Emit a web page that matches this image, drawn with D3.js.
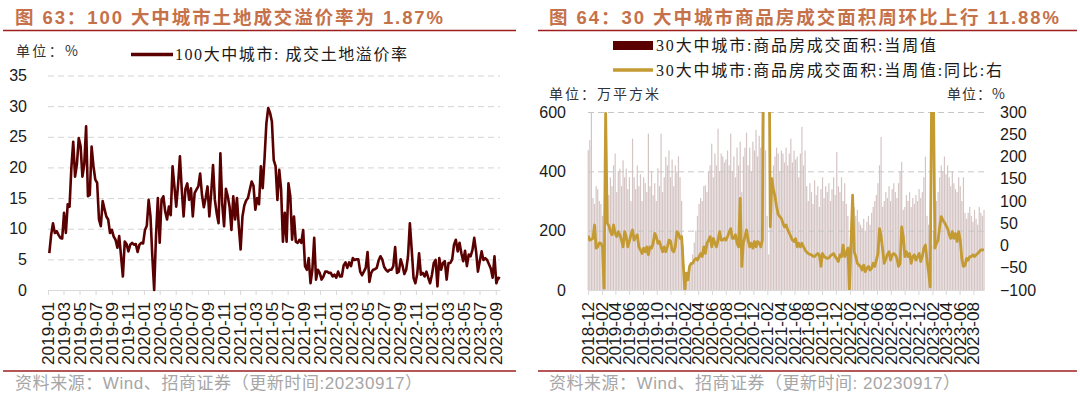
<!DOCTYPE html>
<html lang="zh">
<head>
<meta charset="UTF-8">
<title>土地溢价率与商品房成交面积</title>
<script src="https://cdn.jsdelivr.net/npm/d3@7"></script>
<style>
  body { margin: 0; background: #fff; }
  svg { display: block; font-family: "Liberation Sans", Arial, "Noto Sans CJK SC", sans-serif; }
  .title { font-family: "Liberation Sans", "Noto Sans CJK SC", sans-serif; font-weight: bold; font-size: 18.5px; fill: #c5714a; }
  .note { font-family: "Noto Sans CJK SC", sans-serif; font-size: 14px; fill: #333; }
  .legend { font-family: "Liberation Serif", "Noto Sans CJK SC", serif; font-size: 16px; fill: #1a1a1a; }
  .source { font-family: "Liberation Sans", "Noto Sans CJK SC", sans-serif; font-size: 17px; fill: #a6a6a6; }
  .rule { stroke: #9e1f1f; stroke-width: 1.3; }
  .grid line { stroke: #d4d4d4; stroke-dasharray: 6,4; }
  .grid path { display: none; }
  .yaxis path, .yaxis line { display: none; }
  .yaxis text { font-size: 16px; fill: #1a1a1a; }
  .xaxis path, .xaxis line { stroke: #d9d9d9; }
  .xaxis text { font-size: 16px; fill: #1a1a1a; }
</style>
</head>
<body>
<svg id="chart" width="1080" height="393"></svg>
<script>
// 图63：100大中城市成交土地溢价率（周，%），截至 2023-09-17
const premiumEnd = '2023-09-17';
const landPremium = [
  6.0, 9.0, 10.9, 9.3, 9.6, 9.0, 8.5, 8.4, 12.6, 9.3,
  14.0, 13.6, 20.0, 24.2, 18.5, 20.5, 24.8, 23.5, 18.5, 20.5,
  26.7, 15.3, 15.5, 23.4, 20.2, 18.0, 17.5, 11.5, 10.4, 14.5,
  13.2, 12.0, 11.5, 9.3, 9.8, 8.7, 8.2, 6.9, 8.8, 5.5,
  2.2, 7.9, 7.5, 6.3, 7.4, 7.7, 7.4, 7.5, 6.2, 7.4,
  7.7, 7.6, 9.8, 10.5, 14.7, 12.0, 5.5, 0.0, 8.8, 15.0,
  7.7, 14.7, 15.3, 12.8, 11.5, 13.6, 12.2, 20.2, 16.9, 13.6,
  17.2, 21.8, 16.4, 12.0, 16.5, 17.4, 14.7, 16.6, 12.0, 15.8,
  16.4, 16.9, 19.0,
  15.5, 13.5, 15.0, 16.9, 12.0, 15.8, 20.4, 14.7, 12.5, 10.9,
  22.3, 14.0, 10.4, 16.5, 15.3, 13.6, 9.8, 15.3, 11.5, 15.0,
  10.4, 6.6, 12.0, 13.8, 14.6, 15.0, 16.4, 17.7, 17.0, 13.1,
  15.0, 14.0, 20.2, 16.6, 21.5, 27.2, 29.7, 28.9, 27.5, 21.2,
  20.2, 14.7, 19.6, 16.4, 7.9, 12.6, 7.9, 17.4, 15.3, 8.2,
  12.0, 7.9, 7.7, 8.2, 7.7, 9.8, 3.9, 3.3, 5.2, 1.1,
  3.3, 8.5, 1.7, 3.3, 2.8, 1.7, 2.2, 3.0, 3.0, 2.8,
  2.8, 2.2, 2.5, 2.0, 3.0, 2.2, 2.2,
  4.0, 4.5, 3.6, 4.5, 3.9, 5.2, 4.9, 5.0, 5.0, 3.0,
  2.4, 3.0, 3.6, 6.2, 1.3, 2.8, 3.3, 3.4, 3.6, 4.8,
  5.5, 5.0, 3.8, 3.3, 3.0, 3.3, 3.3, 3.9, 7.0, 2.8,
  3.0, 5.0, 4.0, 2.6, 3.3, 5.5, 10.9, 6.6, 2.0, 1.1,
  2.6, 6.0, 2.5, 2.8, 2.2, 3.0, 2.0, 1.1, 2.5, 4.4,
  4.9, 0.6, 5.2, 3.3, 4.4, 4.7, 1.7, 4.4, 4.4, 5.0,
  7.4, 8.2, 6.3, 7.7, 6.0, 4.7, 6.4, 3.9, 5.8, 5.5,
  6.5, 8.5, 6.3, 3.0, 4.7, 6.3, 4.9, 5.2, 4.9, 4.2,
  3.5, 2.0, 5.5, 1.1, 2.0, 1.87
];
const premiumTicks = [
  '2019-01', '2019-03', '2019-05', '2019-07', '2019-09', '2019-11',
  '2020-01', '2020-03', '2020-05', '2020-07', '2020-09', '2020-11',
  '2021-01', '2021-03', '2021-05', '2021-07', '2021-09', '2021-11',
  '2022-01', '2022-03', '2022-05', '2022-07', '2022-09', '2022-11',
  '2023-01', '2023-03', '2023-05', '2023-07', '2023-09'
];
const premiumYTicks = [0, 5, 10, 15, 20, 25, 30, 35];

// 图64：30大中城市商品房成交面积（周，万平方米）与同比（%，右轴）
const areaEnd = '2023-09-17';
const areaWeekly = [
  471, 505, 600, 310, 290, 350, 340, 300, 290, 250,
  80, 180, 330, 320, 380, 350, 420, 460, 330, 400,
  409, 350, 437, 380, 409, 340, 380, 300, 510, 380,
  340, 420, 350, 390, 300, 380, 360, 330, 527, 350,
  400, 320, 360, 300, 410, 350, 527, 330, 380, 449,
  420, 470, 380, 440, 350, 420, 400, 450, 380, 300,
  150, 30, 20, 40, 60, 90, 120, 160, 200, 250,
  290, 310, 300, 350, 353, 330, 400, 420, 493, 380,
  460, 420, 544, 400, 460, 450, 430, 440, 470, 420,
  527, 400, 450, 380, 480, 420, 500, 330, 450, 480,
  530, 420, 480, 400, 500, 470, 540, 450, 520, 480,
  560, 600, 470, 250, 120, 300, 330, 420, 450, 480,
  460, 400, 470, 460, 430, 480, 420, 460, 510, 430,
  470, 440, 450, 380, 460, 550, 420, 470, 350, 300,
  360, 330, 290, 370, 320, 350, 280, 340, 380, 310,
  350, 330, 360, 300, 340, 380, 320, 465, 350, 330,
  380, 300, 360, 290, 250, 150, 230, 260, 280, 250,
  270, 230, 220, 210, 240, 200, 230, 250, 220, 260,
  280, 300, 320, 360, 420, 516, 280, 300, 330, 310,
  350, 300, 340, 360, 330, 310, 360, 400, 432, 270,
  280, 320, 300, 330, 280, 310, 290, 320, 300, 340,
  310, 330, 380, 449, 250, 220, 80, 150, 200, 260,
  300, 330, 380, 420, 400, 450, 390, 420, 380, 350,
  400, 360, 340, 330, 380, 350, 300, 380, 260, 240,
  260, 280, 250, 230, 270, 240, 220, 280, 260, 250, 270
];
const areaYoY = [
  22, 12, 14, 16, 46, -6, -3, 6, 5, -3,
  -96, 297, 50, 45, 31, 24, 46, 27, 20, 31,
  24, 12, -3, 31, 20, -3, 10, 24, 35, 12,
  20, 24, -3, -10, -18, -6, -14, -3, -21, -3,
  -6, 5, 27, 20, 5, 9, -3, -14, -3, -14,
  -3, 12, 10, -10, -14, -3, 31, 27, 16, 20,
  -40, -100, -62, -77, -47, -40, -40, -33, -29, -33,
  -25, -18, -25, -3, -18, 5, 12, 20, -3, 16,
  5, -3, 12, 31, 12, 12, 16, 12, 20, 30,
  38, 16, 16, 24, 5, -3, 106, -47, 5, 20,
  35, 12, -3, 5, -6, 9, -3, 9, 5, -3,
  12, 700, 1500, 900, 600, 42, 150, 125, 110, 87,
  70, 65, 61, 50, 42, 46, 35, 28, 20, 12,
  9, 15, -3, 5, -3, 5, -3, -10, -15, -18,
  -20, -21, -24, -25, -21, -18, -21, -47, -18, -25,
  -27, -29, -28, -23, -21, -18, -25, -30, -36, -21,
  -25, 1, -25, -18, -6, -100, 6, 113, -14, -25,
  -40, -44, -47, -55, -44, -59, -51, -47, -55, -51,
  -40, -47, -33, -18, 38, 20, -10, -40, -30, -20,
  -14, -33, -21, -18, -21, -29, -47, -40, 42, 20,
  -25, -14, -25, -18, -40, -25, -21, -33, -25, -18,
  -36, -25, -6, 1, -33, -60, -93, 380, 360, -6,
  5, 12, 42, 65, 57, 52, 45, 38, 25, 16,
  31, 16, 27, 9, 31, 12, -30, -47, -45, -29,
  -33, -25, -25, -21, -25, -21, -18, -14, -10, -10, -10
];
const areaTicks = [
  '2018-12', '2019-02', '2019-04', '2019-06', '2019-08', '2019-10',
  '2019-12', '2020-02', '2020-04', '2020-06', '2020-08', '2020-10',
  '2020-12', '2021-02', '2021-04', '2021-06', '2021-08', '2021-10',
  '2021-12', '2022-02', '2022-04', '2022-06', '2022-08', '2022-10',
  '2022-12', '2023-02', '2023-04', '2023-06', '2023-08'
];
const areaLeftTicks = [0, 200, 400, 600];
const areaRightTicks = [-100, -50, 0, 50, 100, 150, 200, 250, 300];

const parseDay = d3.timeParse('%Y-%m-%d');
const parseMonth = d3.timeParse('%Y-%m');

// weekly dates counted back from the last observation
function weekly(values, end) {
  const last = parseDay(end);
  return values.map((v, i) => ({ date: d3.timeDay.offset(last, -7 * (values.length - 1 - i)), value: v }));
}

const svg = d3.select('#chart');

function rotatedLabels(g) {
  g.selectAll('.tick text')
    .attr('transform', 'rotate(-90)')
    .attr('x', -12)
    .attr('y', 0)
    .attr('dy', '0.35em')
    .attr('textLength', 63)
    .attr('lengthAdjust', 'spacingAndGlyphs')
    .style('text-anchor', 'end');
}

// ---------- 左图 ----------
(function () {
  const data = weekly(landPremium, premiumEnd);
  const x = d3.scaleTime().domain([parseMonth('2019-01'), parseDay('2023-09-17')]).range([48, 500]);
  const y = d3.scaleLinear().domain([0, 35]).range([290, 75.5]);

  svg.append('text').attr('class', 'title').attr('x', 15).attr('y', 23.5)
    .attr('textLength', 428).attr('lengthAdjust', 'spacing')
    .text('图 63：100 大中城市土地成交溢价率为 1.87%');
  svg.append('line').attr('class', 'rule').attr('x1', 3).attr('x2', 516).attr('y1', 30.5).attr('y2', 30.5);

  svg.append('text').attr('class', 'note').attr('x', 16).attr('y', 56)
    .attr('textLength', 62).attr('lengthAdjust', 'spacing').text('单位：%');

  svg.append('line').attr('x1', 131).attr('x2', 173).attr('y1', 54.5).attr('y2', 54.5)
    .attr('stroke', '#5a0000').attr('stroke-width', 3.5);
  svg.append('text').attr('class', 'legend').attr('x', 175).attr('y', 59.5)
    .attr('textLength', 232).attr('lengthAdjust', 'spacing').text('100大中城市: 成交土地溢价率');

  svg.append('g').attr('class', 'grid')
    .attr('transform', 'translate(48,0)')
    .call(d3.axisLeft(y).tickValues(premiumYTicks.slice(1)).tickSize(-452).tickFormat(''));

  svg.append('g').attr('class', 'yaxis')
    .attr('transform', 'translate(48,0)')
    .call(d3.axisLeft(y).tickValues(premiumYTicks).tickSize(0).tickPadding(21));

  svg.append('g').attr('class', 'xaxis')
    .attr('transform', 'translate(0,290)')
    .call(d3.axisBottom(x).tickValues(premiumTicks.map(parseMonth))
      .tickFormat(d3.timeFormat('%Y-%m')).tickSizeInner(5).tickSizeOuter(0))
    .call(rotatedLabels);

  svg.append('path').datum(data)
    .attr('fill', 'none')
    .attr('stroke', '#5a0000')
    .attr('stroke-width', 2.6)
    .attr('stroke-linejoin', 'round')
    .attr('d', d3.line().x(d => x(d.date)).y(d => y(d.value)));

  svg.append('line').attr('class', 'rule').attr('x1', 3).attr('x2', 516).attr('y1', 371).attr('y2', 371);
  svg.append('text').attr('class', 'source').attr('x', 15).attr('y', 389)
    .attr('textLength', 407).attr('lengthAdjust', 'spacing')
    .text('资料来源：Wind、招商证券（更新时间:20230917）');
})();

// ---------- 右图 ----------
(function () {
  const bars = weekly(areaWeekly, areaEnd);
  const yoy = weekly(areaYoY, areaEnd);
  const x = d3.scaleTime().domain([parseMonth('2018-12'), parseDay('2023-09-17')]).range([588, 984]);
  const yL = d3.scaleLinear().domain([0, 600]).range([290, 112]);
  const yR = d3.scaleLinear().domain([-100, 300]).range([290, 112]);

  svg.append('text').attr('class', 'title').attr('x', 549).attr('y', 23.5)
    .attr('textLength', 510).attr('lengthAdjust', 'spacing')
    .text('图 64：30 大中城市商品房成交面积周环比上行 11.88%');
  svg.append('line').attr('class', 'rule').attr('x1', 538).attr('x2', 1077).attr('y1', 30.5).attr('y2', 30.5);

  svg.append('rect').attr('x', 613).attr('y', 41).attr('width', 40).attr('height', 9).attr('fill', '#5a0000');
  svg.append('text').attr('class', 'legend').attr('x', 656).attr('y', 51)
    .attr('textLength', 280).attr('lengthAdjust', 'spacing').text('30大中城市:商品房成交面积:当周值');
  svg.append('line').attr('x1', 613).attr('x2', 653).attr('y1', 70).attr('y2', 70)
    .attr('stroke', '#c49b33').attr('stroke-width', 3.5);
  svg.append('text').attr('class', 'legend').attr('x', 656).attr('y', 75.5)
    .attr('textLength', 346).attr('lengthAdjust', 'spacing').text('30大中城市:商品房成交面积:当周值:同比:右');

  svg.append('text').attr('class', 'note').attr('x', 549).attr('y', 99)
    .attr('textLength', 110).attr('lengthAdjust', 'spacing').text('单位：万平方米');
  svg.append('text').attr('class', 'note').attr('x', 947).attr('y', 99)
    .attr('textLength', 58).attr('lengthAdjust', 'spacing').text('单位：%');

  svg.append('g')
    .selectAll('rect')
    .data(bars)
    .join('rect')
    .attr('x', d => x(d.date) - 0.6)
    .attr('width', 1.2)
    .attr('y', d => yL(d.value))
    .attr('height', d => yL(0) - yL(d.value))
    .attr('fill', '#d5c4c4');

  svg.append('g').attr('class', 'grid')
    .attr('transform', 'translate(588,0)')
    .call(d3.axisLeft(yL).tickValues(areaLeftTicks.slice(1)).tickSize(-396).tickFormat(''))
    .selectAll('line').style('stroke', '#c6c6c6');

  svg.append('g').attr('class', 'yaxis')
    .attr('transform', 'translate(588,0)')
    .call(d3.axisLeft(yL).tickValues(areaLeftTicks).tickSize(0).tickPadding(22));

  svg.append('g').attr('class', 'yaxis')
    .attr('transform', 'translate(1000,0)')
    .call(d3.axisRight(yR).tickValues(areaRightTicks).tickSize(0).tickPadding(0));

  svg.append('g').attr('class', 'xaxis')
    .attr('transform', 'translate(0,290)')
    .call(d3.axisBottom(x).tickValues(areaTicks.map(parseMonth))
      .tickFormat(d3.timeFormat('%Y-%m')).tickSizeInner(5).tickSizeOuter(0))
    .call(rotatedLabels);

  svg.append('clipPath').attr('id', 'clipR')
    .append('rect').attr('x', 588).attr('y', 112).attr('width', 396).attr('height', 178);

  svg.append('path').datum(yoy)
    .attr('clip-path', 'url(#clipR)')
    .attr('fill', 'none')
    .attr('stroke', '#c49b33')
    .attr('stroke-width', 2.8)
    .attr('stroke-linejoin', 'round')
    .attr('d', d3.line().x(d => x(d.date)).y(d => yR(d.value)));

  svg.append('line').attr('class', 'rule').attr('x1', 538).attr('x2', 1077).attr('y1', 371).attr('y2', 371);
  svg.append('text').attr('class', 'source').attr('x', 549).attr('y', 389)
    .attr('textLength', 411).attr('lengthAdjust', 'spacing')
    .text('资料来源：Wind、招商证券（更新时间: 20230917）');
})();
</script>
</body>
</html>
